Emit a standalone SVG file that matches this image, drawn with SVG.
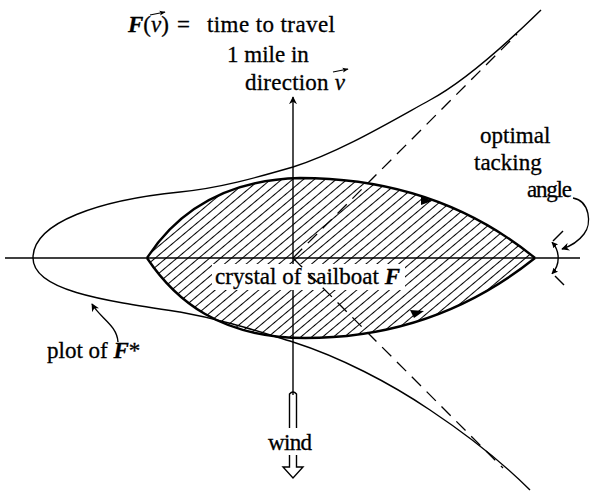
<svg xmlns="http://www.w3.org/2000/svg" width="590" height="492" viewBox="0 0 590 492">
<style>
.t{font-family:"Liberation Serif","Times New Roman",serif;font-size:23px;fill:#000;stroke:#000;stroke-width:0.3}
.fb{font-style:italic;font-weight:bold}
.it{font-style:italic}
.ln{fill:none;stroke:#000;stroke-width:1.4}
.thin{fill:none;stroke:#000;stroke-width:1.1}
.thick{fill:none;stroke:#000;stroke-width:2.4}
.dash{fill:none;stroke:#000;stroke-width:1.3;stroke-dasharray:13 8}
</style>
<defs>
<pattern id="hatch" patternUnits="userSpaceOnUse" width="7" height="7" patternTransform="rotate(-40)">
<line x1="0" y1="3.5" x2="7" y2="3.5" stroke="#000" stroke-width="1"/>
</pattern>
<marker id="ah" viewBox="0 0 10 10" refX="9" refY="5" markerWidth="8" markerHeight="8" markerUnits="userSpaceOnUse" orient="auto">
<path d="M0,0 L10,5 L0,10 L3,5 z" fill="#000"/>
</marker>
<marker id="ahv" viewBox="0 0 10 10" refX="9" refY="5" markerWidth="6" markerHeight="6" markerUnits="userSpaceOnUse" orient="auto">
<path d="M0,1 L10,5 L0,9 L2,5 z" fill="#000"/>
</marker>
<marker id="ahs" viewBox="0 0 10 10" refX="9" refY="5" markerWidth="6" markerHeight="6" markerUnits="userSpaceOnUse" orient="auto-start-reverse">
<path d="M0,0 L10,5 L0,10 z" fill="#000"/>
</marker>
</defs>

<g id="axes">
<line class="ln" x1="5" y1="258" x2="580" y2="258"/>
<line class="ln" x1="293" y1="395" x2="293" y2="97" marker-end="url(#ah)"/>
</g>

<g id="crystal">
<path d="M147,258 C175,215 220,180 300,178 C390,178 470,205 535,258 C470,310 395,338 305,338 C220,338 175,300 147,258 Z" fill="url(#hatch)" stroke="none"/>
<rect x="212" y="264" width="193" height="26" fill="#fff"/>
<path class="thick" d="M147,258 C175,215 220,180 300,178 C390,178 470,205 535,258"/>
<path class="thick" d="M147,258 C175,300 220,338 305,338 C395,338 470,310 535,258"/>
<path d="M421,196 L432,201 L421,205 Z" fill="#000"/>
<path d="M410,310 L424,311 L414,318 Z" fill="#000"/>
<text class="t" x="215" y="284" textLength="185">crystal of sailboat <tspan class="fb">F</tspan></text>
</g>

<g id="fstar">
<path class="ln" d="M541,10 C500,50 460,84 430,100 C390,122 340,152 293,167 C255,178 220,188 180,192 C100,200 33,222 33,258 C33,290 100,300 180,312 C225,320 260,332 293,342 C340,357 390,383 430,410 C460,430 500,460 530,490"/>
</g>

<g id="connectors">
<line class="dash" x1="293" y1="258" x2="517" y2="34"/>
<line class="dash" x1="293" y1="258" x2="503" y2="468"/>
<line class="ln" x1="553" y1="241" x2="563" y2="231"/>
<line class="ln" x1="555" y1="276" x2="564" y2="285"/>
<path class="ln" d="M552,242.3 A23,23 0 0 1 552,273.7" marker-start="url(#ahs)" marker-end="url(#ahs)"/>
<path class="ln" d="M573,198 C590,201 592,224 584,234 C578,242 571,246 562,249" marker-end="url(#ah)"/>
<path class="ln" d="M118,342 C117,325 100,318 92,304" marker-end="url(#ah)"/>
</g>

<g id="wind">
<path class="ln" d="M289.5,428 L289.5,394 Q293,390 296.5,394 L296.5,428"/>
<path class="ln" d="M289.5,455 L289.5,467 L283,467 L293,478 L303,467 L296.5,467 L296.5,455"/>
<text class="t" x="268" y="450" textLength="44">wind</text>
</g>

<g id="labels">
<text class="t" x="128" y="32"><tspan class="fb">F</tspan>(<tspan class="it">v</tspan>)</text>
<line class="thin" x1="150" y1="15" x2="165" y2="12" marker-end="url(#ahv)"/>
<text class="t" x="177" y="32">=</text>
<text class="t" x="207" y="32" textLength="128">time to travel</text>
<text class="t" x="227" y="62">1 mile in</text>
<text class="t" x="245" y="90" textLength="100">direction <tspan class="it">v</tspan></text>
<line class="thin" x1="333" y1="72" x2="348" y2="69" marker-end="url(#ahv)"/>
<text class="t" x="480" y="143">optimal</text>
<text class="t" x="474" y="170">tacking</text>
<text class="t" x="527" y="197" textLength="45">angle</text>
<text class="t" x="47" y="358">plot of <tspan class="fb">F</tspan>*</text>
</g>
</svg>
